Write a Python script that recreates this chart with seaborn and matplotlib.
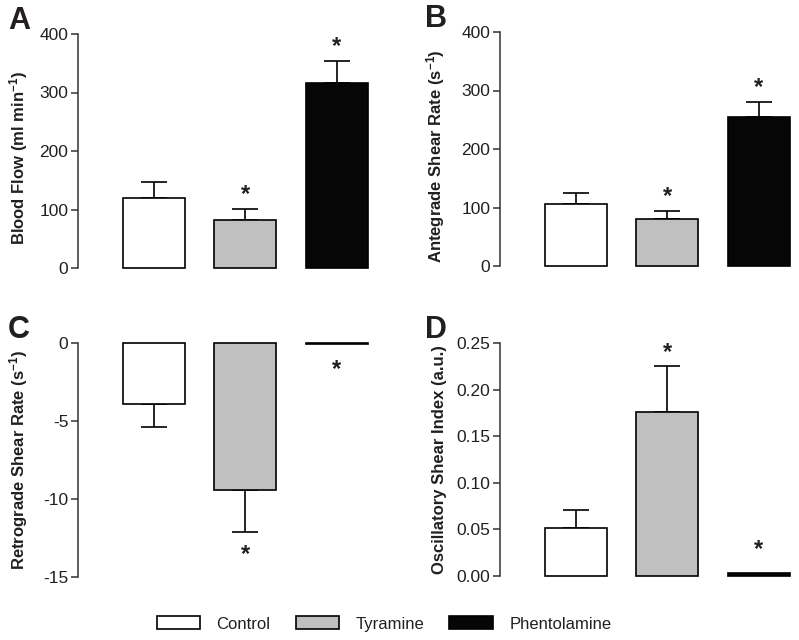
import matplotlib
matplotlib.use("Agg")
import matplotlib.pyplot as plt
from matplotlib.patches import Patch
import numpy as np
import pandas as pd
import seaborn as sns

# data (mean, SEM)
groups = ["Control", "Tyramine", "Phentolamine"]
colors = ["#ffffff", "#c0c0c0", "#060606"]

flow_mean = [120, 82, 316]
flow_sem = [27, 19, 38]
flow_sig = [False, True, True]

ante_mean = [106, 80, 255]
ante_sem = [19, 14, 25]
ante_sig = [False, True, True]

retro_mean = [-3.9, -9.4, -0.05]
retro_sem = [1.5, 2.7, 0.0]
retro_sig = [False, True, True]

osi_mean = [0.0515, 0.176, 0.003]
osi_sem = [0.0195, 0.049, 0.0]
osi_sig = [False, True, True]

sns.set_style("ticks")
plt.rcParams["font.family"] = ["Liberation Sans", "DejaVu Sans"]
plt.rcParams["mathtext.fontset"] = "custom"
plt.rcParams["mathtext.rm"] = "Liberation Sans"
plt.rcParams["mathtext.bf"] = "Liberation Sans:bold"
txt = "#231f20"

fig = plt.figure(figsize=(7.99, 6.4), dpi=100)
W, H = 799, 640


def px_axes(left, top, bottom, width):
    return fig.add_axes([left / W, 1 - bottom / H, width / W, (bottom - top) / H])


panels = [
    ("A", flow_mean, flow_sem, flow_sig, r"Blood Flow (ml min$\mathbf{^{-1}}$)",
     (0, 400), [0, 100, 200, 300, 400], "{:.0f}", (78, 34, 268)),
    ("B", ante_mean, ante_sem, ante_sig, r"Antegrade Shear Rate (s$\mathbf{^{-1}}$)",
     (0, 400), [0, 100, 200, 300, 400], "{:.0f}", (500, 32, 266)),
    ("C", retro_mean, retro_sem, retro_sig, r"Retrograde Shear Rate (s$\mathbf{^{-1}}$)",
     (-15, 0), [-15, -10, -5, 0], "{:.0f}", (78, 343, 577)),
    ("D", osi_mean, osi_sem, osi_sig, "Oscillatory Shear Index (a.u.)",
     (0, 0.25), [0, 0.05, 0.10, 0.15, 0.20, 0.25], "{:.2f}", (500, 343, 576)),
]

for letter, mean, sem, sig, ylabel, ylim, ticks, fmt, (lx, top, bot) in panels:
    ax = px_axes(lx, top, bot, 300)
    df = pd.DataFrame({"group": groups, "value": mean})
    sns.barplot(data=df, x="group", y="value", hue="group", palette=colors,
                edgecolor="black", linewidth=1.2, width=0.68, errorbar=None,
                legend=False, ax=ax, zorder=3)
    for p in ax.patches:
        p.set_clip_on(False)

    pos = np.arange(len(groups))
    m = np.array(mean)
    e = np.array(sem)
    up = np.where(m >= 0, e, 0)
    lo = np.where(m < 0, e, 0)
    show = e > 0
    ax.errorbar(pos[show], m[show], yerr=[lo[show], up[show]], fmt="none",
                ecolor="black", elinewidth=1.2, capsize=9.5, capthick=1.2,
                zorder=2, clip_on=False)

    # significance stars
    for i in range(len(groups)):
        if not sig[i]:
            continue
        d = 1 if m[i] >= 0 else -1
        yv = m[i] + d * e[i]
        if e[i] > 0:
            off = 2 if d > 0 else -25
        else:
            off = 9 if d > 0 else -27
        ax.annotate("*", (i, yv), xytext=(0, off),
                    textcoords="offset points", ha="center", va="bottom",
                    fontsize=17, fontweight="bold", color=txt)

    ax.set_xlim(-0.83, 2.45)
    ax.set_ylim(*ylim)
    ax.set_yticks(ticks)
    ax.set_yticklabels([fmt.format(t) for t in ticks])
    ax.set_xticks([])
    ax.set_xlabel("")
    ax.set_ylabel(ylabel, fontsize=12, fontweight="bold", color=txt)
    lpad = -48 if lx < 400 else -53
    ax.yaxis.set_label_coords(lpad / 300, 0.5 if letter in "CD" else 0.47)
    sns.despine(ax=ax, bottom=True)
    ax.spines["left"].set_linewidth(1.1)
    ax.spines["left"].set_color("#333333")
    ax.tick_params(axis="y", direction="out", length=5, width=1.1,
                   labelsize=12.5, labelcolor=txt, color="#333333", pad=2)

    fx = 8 if lx < 400 else 425
    fig.text(fx / W, 1 - (top - 28) / H, letter, ha="left", va="top",
             fontsize=22, fontweight="bold", color=txt)

handles = [Patch(facecolor=c, edgecolor="black", linewidth=1.2, label=g)
           for g, c in zip(groups, colors)]
fig.legend(handles=handles, loc="center", bbox_to_anchor=(384 / W, 1 - 624 / H),
           ncol=3, frameon=False, fontsize=12, handlelength=2.6,
           handleheight=0.8, handletextpad=1.0, columnspacing=1.5,
           labelcolor=txt)

fig.savefig("out.png", dpi=100)
